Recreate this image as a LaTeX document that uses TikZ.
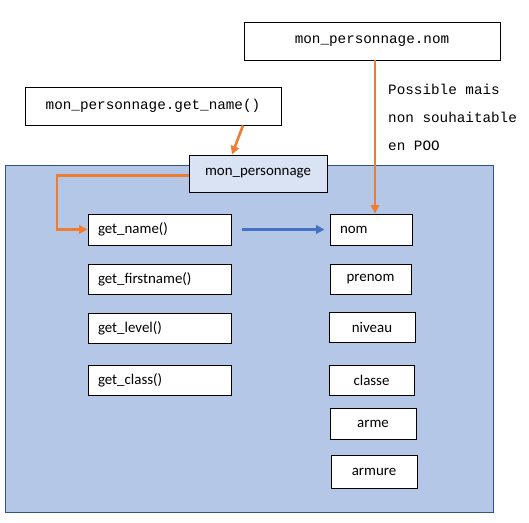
\documentclass[tikz,border=0pt]{standalone}
\usepackage{fontspec}
\setmainfont{Carlito}
\newfontfamily\cour{Liberation Mono}
\usetikzlibrary{arrows.meta}
\definecolor{bgblue}{HTML}{B4C7E7}
\definecolor{bgborder}{HTML}{2F528F}
\definecolor{lightblue}{HTML}{DAE3F3}
\definecolor{orangeline}{HTML}{ED7D31}
\definecolor{blueline}{HTML}{4472C4}
\tikzset{
  box/.style={draw=black, line width=0.9pt, fill=white, inner sep=0pt, font=\fontsize{14.9}{17}\selectfont},
  codebox/.style={box, font=\cour\fontsize{14.3}{17}\selectfont},
  leftbox/.style={box, align=left, inner xsep=10pt},
  notetext/.style={anchor=base west, inner sep=0pt, font=\cour\fontsize{14.3}{17}\selectfont},
  oarrow/.style={draw=orangeline, line width=2.6pt, -{Triangle[length=8.5pt,width=8.5pt]}},
  barrow/.style={draw=blueline, line width=2.6pt, -{Triangle[length=8.5pt,width=8.5pt]}},
}
\begin{document}
\begin{tikzpicture}[x=1pt,y=-1pt]
\useasboundingbox (0,0) rectangle (529,522);
% main area
\node[draw=bgborder, line width=0.9pt, fill=bgblue, minimum width=488pt, minimum height=347pt, inner sep=0pt] (area) at (249,338.5) {};
% code boxes
\node[codebox, minimum width=256pt, minimum height=38pt] (codenom) at (372,41) {\raisebox{3pt}{mon\_personnage.nom}};
\node[codebox, minimum width=256pt, minimum height=38pt] (codeget) at (153,106) {\raisebox{2pt}{mon\_personnage.get\_name()}};
% object box
\node[box, fill=lightblue, minimum width=138pt, minimum height=37pt] (monp) at (258,173.5) {\raisebox{2pt}{mon\_personnage}};
% methods
\node[leftbox, text width=123pt, minimum height=31pt] (getname) at (159.5,229.5) {get\_name()};
\node[leftbox, text width=123pt, minimum height=30pt] (getfirst) at (159.5,279) {get\_firstname()};
\node[leftbox, text width=123pt, minimum height=30pt] (getlevel) at (159.5,328) {get\_level()};
\node[leftbox, text width=123pt, minimum height=30pt] (getclass) at (159.5,380) {get\_class()};
% attributes
\node[leftbox, text width=62pt, minimum height=31pt] (nom) at (371,229.5) {nom};
\node[box, minimum width=81pt, minimum height=30pt] (prenom) at (370.5,279) {prenom};
\node[box, minimum width=86pt, minimum height=30pt] (niveau) at (372,327) {niveau};
\node[box, minimum width=85pt, minimum height=30pt] (classe) at (371.5,380) {classe};
\node[box, minimum width=86pt, minimum height=31pt] (arme) at (373,423.5) {arme};
\node[box, minimum width=86pt, minimum height=33pt] (armure) at (374,471.5) {armure};
% note
\node[notetext] (note1) at (388,94) {Possible mais};
\node[notetext] (note2) at (388,122) {non souhaitable};
\node[notetext] (note3) at (388,150.5) {en POO};
% connectors
\coordinate (lx) at (57,0);
\draw[oarrow] ([xshift=90pt]codeget.south) -- ([xshift=-26pt]monp.north);
\draw[oarrow] ([xshift=3pt]codenom.south) -- ([xshift=3pt]codenom.south |- nom.north);
\draw[oarrow] ([yshift=-2pt]monp.west) -- ([yshift=-2pt]monp.west -| lx) |- (getname.west);
\draw[barrow] ([xshift=11pt]getname.east) -- ([xshift=-5pt]nom.west);
\end{tikzpicture}
\end{document}
